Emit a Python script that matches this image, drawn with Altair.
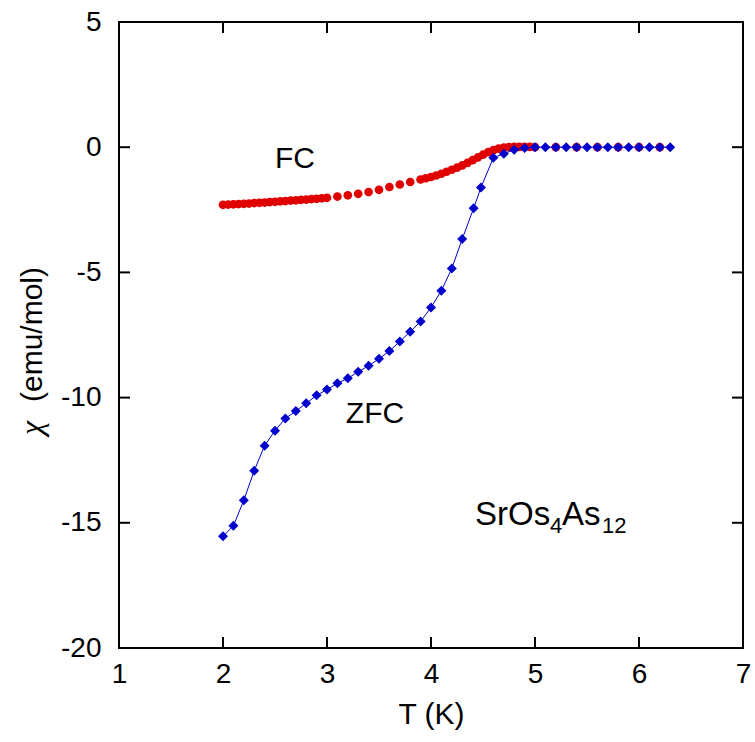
import altair as alt
import pandas as pd

# ---------------- data ----------------
T_FC = [2.00, 2.05, 2.10, 2.15, 2.20, 2.25, 2.30, 2.35, 2.40, 2.45, 2.50,
        2.55, 2.60, 2.65, 2.70, 2.75, 2.80, 2.85, 2.90, 2.95, 3.00,
        3.10, 3.20, 3.30, 3.40, 3.50, 3.60, 3.70, 3.80, 3.90,
        3.95, 4.00, 4.05, 4.10, 4.15, 4.20, 4.25, 4.30, 4.35, 4.40, 4.45,
        4.50, 4.55, 4.60, 4.65, 4.70, 4.75, 4.80, 4.85, 4.90, 4.95, 5.00,
        5.20, 5.40, 5.60, 5.80, 6.00, 6.20]
CHI_FC = [-2.30, -2.29, -2.28, -2.27, -2.26, -2.25, -2.23, -2.22, -2.21, -2.19, -2.18,
          -2.16, -2.15, -2.13, -2.12, -2.10, -2.09, -2.07, -2.06, -2.04, -2.02,
          -1.97, -1.92, -1.86, -1.79, -1.70, -1.59, -1.49, -1.39, -1.29,
          -1.24, -1.19, -1.13, -1.06, -0.98, -0.90, -0.82, -0.73, -0.63, -0.52, -0.41,
          -0.30, -0.20, -0.12, -0.06, -0.02, 0.00, 0.01, 0.01, 0.01, 0.01, 0.00,
          0.00, 0.00, 0.00, 0.00, 0.00, 0.00]

T_ZFC = [2.0, 2.1, 2.2, 2.3, 2.4, 2.5, 2.6, 2.7, 2.8, 2.9, 3.0, 3.1, 3.2, 3.3,
         3.4, 3.5, 3.6, 3.7, 3.8, 3.9, 4.0, 4.1, 4.2, 4.3, 4.41, 4.48, 4.6,
         4.7, 4.8, 4.9, 5.0, 5.1, 5.2, 5.3, 5.4, 5.5, 5.6, 5.7, 5.8, 5.9,
         6.0, 6.1, 6.2, 6.3]
CHI_ZFC = [-15.54, -15.12, -14.10, -12.92, -11.92, -11.32, -10.83, -10.54,
           -10.23, -9.91, -9.68, -9.43, -9.23, -8.97, -8.73, -8.45, -8.14,
           -7.76, -7.37, -6.96, -6.40, -5.73, -4.84, -3.67, -2.44, -1.61,
           -0.42, -0.26, -0.10, -0.03, 0.0, 0.0, 0.0, 0.0, 0.0, 0.0, 0.0,
           0.0, 0.0, 0.0, 0.0, 0.0, 0.0, 0.0]

X_TICKS = [1, 2, 3, 4, 5, 6, 7]
Y_TICKS = [5, 0, -5, -10, -15, -20]
X_DOMAIN = [1, 7]
Y_DOMAIN = [-20, 5]

LABEL_FC = ["FC"]
LABEL_ZFC = ["ZFC"]
COMPOUND = ["SrOs", "4", "As", "12"]
Y_TITLE = ["χ", "(emu/mol)"]
X_TITLE = "T (K)"

# ---------------- styling ----------------
W, H = 624, 626
FONT = "Liberation Sans"
RED = "#e00000"
BLUE = "#0000cc"
TICK = 11

xs = alt.Scale(domain=X_DOMAIN, nice=False, zero=False)
ys = alt.Scale(domain=Y_DOMAIN, nice=False, zero=False)

common_axis = dict(domain=False, ticks=False, grid=False, labelFlush=False,
                   labelExpr="'' + datum.value",
                   labelFont=FONT, labelFontSize=28, labelColor="black")
xaxis = alt.Axis(values=X_TICKS, labelPadding=12,
                 title=X_TITLE, titleFont=FONT, titleFontSize=30, titleFontWeight="normal",
                 titleColor="black", titlePadding=11, **common_axis)
yaxis = alt.Axis(values=Y_TICKS, labelPadding=18, title=None, **common_axis)

X = dict(scale=xs, axis=xaxis)
Y = dict(scale=ys, axis=yaxis)

df_fc = pd.DataFrame({"T": T_FC, "chi": CHI_FC})
df_zfc = pd.DataFrame({"T": T_ZFC, "chi": CHI_ZFC})

fc = alt.Chart(df_fc).mark_point(shape="circle", filled=True, size=76, color=RED,
                                 opacity=1, strokeWidth=0).encode(
    x=alt.X("T:Q", **X), y=alt.Y("chi:Q", **Y))
zfc_line = alt.Chart(df_zfc).mark_line(color=BLUE, strokeWidth=1).encode(
    x=alt.X("T:Q", **X), y=alt.Y("chi:Q", **Y))
zfc_pts = alt.Chart(df_zfc).mark_point(shape="diamond", filled=True, size=100, color=BLUE,
                                       opacity=1, strokeWidth=0).encode(
    x=alt.X("T:Q", **X), y=alt.Y("chi:Q", **Y))

xt = pd.DataFrame({"T": X_TICKS})
yt = pd.DataFrame({"chi": Y_TICKS})
rule = dict(color="black", strokeWidth=2)
tick_b = alt.Chart(xt).mark_rule(**rule).encode(
    x=alt.X("T:Q", **X), y=alt.value(H), y2=alt.value(H - TICK))
tick_t = alt.Chart(xt).mark_rule(**rule).encode(
    x=alt.X("T:Q", **X), y=alt.value(0), y2=alt.value(TICK))
tick_l = alt.Chart(yt).mark_rule(**rule).encode(
    y=alt.Y("chi:Q", **Y), x=alt.value(0), x2=alt.value(TICK))
tick_r = alt.Chart(yt).mark_rule(**rule).encode(
    y=alt.Y("chi:Q", **Y), x=alt.value(W), x2=alt.value(W - TICK))

one = pd.DataFrame({"k": [0]})
frame = [
    alt.Chart(one).mark_rule(**rule).encode(x=alt.value(0), y=alt.value(0), y2=alt.value(H)),
    alt.Chart(one).mark_rule(**rule).encode(x=alt.value(W), y=alt.value(0), y2=alt.value(H)),
    alt.Chart(one).mark_rule(**rule).encode(y=alt.value(0), x=alt.value(-1), x2=alt.value(W + 1)),
    alt.Chart(one).mark_rule(**rule).encode(y=alt.value(H), x=alt.value(-1), x2=alt.value(W + 1)),
]


def label(text, x, y, size=30, align="left", font=FONT, style="normal", angle=0):
    kw = dict(align=align, baseline="alphabetic", font=font, fontSize=size,
              fontStyle=style, color="black")
    if angle:
        kw["angle"] = angle
    return alt.Chart(pd.DataFrame({"t": [text]})).mark_text(**kw).encode(
        text="t:N", x=alt.value(x), y=alt.value(y))


texts = [
    label(LABEL_FC[0], 176, 146, align="center"),
    label(LABEL_ZFC[0], 256, 401, align="center"),
    label(COMPOUND[0], 356, 503, size=33),
    label(COMPOUND[1], 431, 511, size=22),
    label(COMPOUND[2], 443, 503, size=33),
    label(COMPOUND[3], 483, 511, size=22),
    label(Y_TITLE[0], -77, 413, size=32, font="Liberation Serif", style="italic", angle=270),
    label(Y_TITLE[1], -77, 380, size=30, angle=270),
]

chart = alt.layer(fc, zfc_line, zfc_pts, tick_b, tick_t, tick_l, tick_r, *frame, *texts).properties(
    width=W, height=H,
    autosize=alt.AutoSizeParams(type="none"),
    padding={"left": 119, "top": 22, "right": 12, "bottom": 94},
).configure(background="white").configure_view(stroke=None)

chart.save("out.html", embed_options={"renderer": "svg", "actions": False})
